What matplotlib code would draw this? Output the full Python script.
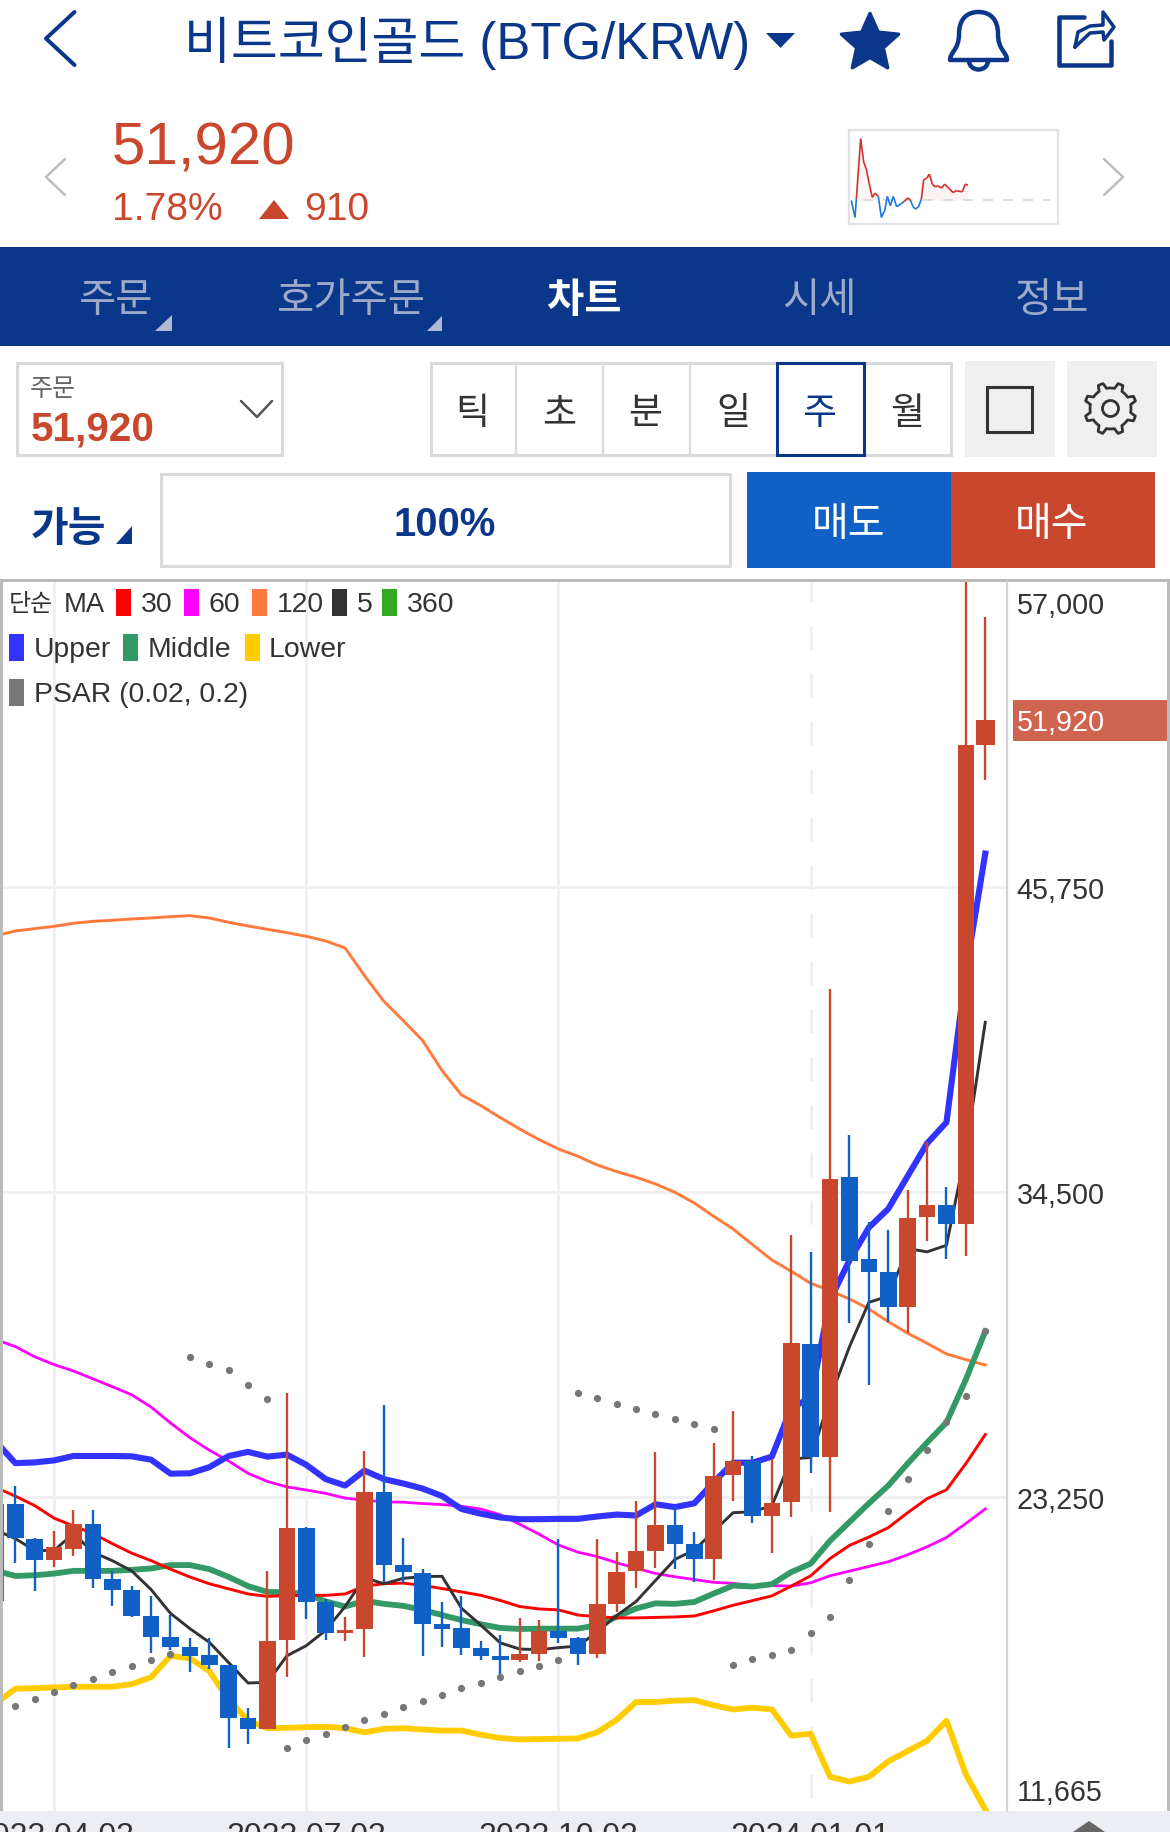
import numpy as np
import matplotlib
matplotlib.use('Agg')
import matplotlib.pyplot as plt
from matplotlib.collections import LineCollection
from matplotlib.patches import Rectangle, Polygon, PathPatch, Arc, Circle
from matplotlib.path import Path

plt.rcParams['font.family'] = ['Liberation Sans', 'Noto Sans CJK KR']

# weekly candles, first one is cut off by the left edge
weeks = list(range(-1, 51))
opens = [19395, 22993, 21714, 20937, 21338, 22253, 20210, 19821, 18856, 18091, 17715, 17402, 17038,
         15095, 14706, 17966, 22116, 19357, 18242, 18367, 23432, 20724, 20461, 18568, 18417, 17665,
         17377, 17251, 17452, 18292, 18029, 17462, 19306, 20513, 21272, 22203, 21497, 20945, 24049,
         24566, 22548, 23048, 28877, 24721, 35068, 32032, 31533, 30239, 33567, 34033, 33326, 50985]
closes = [22993, 21739, 20937, 21414, 22253, 20210, 19821, 18856, 18091, 17715, 17389, 17050, 15095,
          14706, 17941, 22116, 19382, 18229, 18342, 23445, 20749, 20486, 18580, 18367, 17677, 17389,
          17251, 17439, 18292, 18053, 17464, 19289, 20496, 21255, 22203, 21514, 20945, 24014, 24583,
          22548, 23031, 28911, 24721, 34964, 31946, 31550, 30239, 33550, 34033, 33326, 50985, 51920]
highs = [22993, 23658, 21739, 21990, 22780, 22755, 20523, 19959, 19608, 18894, 18053, 18053, 17050,
         15458, 20523, 27080, 22128, 19495, 18831, 24936, 26641, 21727, 20586, 19382, 19608, 17928,
         18141, 18768, 18706, 21702, 18079, 21703, 21220, 23083, 24894, 22893, 21945, 25256, 26428,
         24773, 24652, 32895, 32291, 42000, 36619, 33395, 33102, 34585, 36344, 34688, 58000, 55727]
lows = [19395, 20811, 19796, 20674, 21088, 19896, 19245, 18806, 17477, 17602, 16800, 16913, 14004,
        14130, 14681, 16612, 18730, 17979, 17928, 17339, 20122, 20072, 17389, 17728, 17414, 17226,
        16637, 17176, 17201, 17865, 17063, 17306, 19013, 19876, 20617, 20600, 20117, 20203, 23100,
        22290, 21169, 22514, 24135, 22686, 29653, 27377, 29687, 29308, 32705, 32032, 32136, 49700]

ma5 = [22028, 21714, 21276, 21276, 21902, 21213, 20900, 20523, 19834, 18956, 18392, 17890, 17138,
       16386, 16411, 17389, 17765, 18329, 19207, 20273, 20047, 20248, 20310, 20323, 19144, 18518,
       17866, 17640, 17615, 17690, 17750, 18272, 18876, 19393, 20169, 20945, 21290, 21980, 22669,
       22703, 22928, 24652, 24704, 26894, 28791, 30429, 30653, 32412, 32291, 32533, 36034, 40759]
ma30 = [23595, 23282, 22930, 22467, 22178, 21903, 21527, 21175, 20900, 20586, 20298, 20047, 19859,
        19671, 19583, 19608, 19621, 19621, 19671, 19960, 20047, 20072, 19984, 19871, 19746, 19621,
        19433, 19207, 19119, 19082, 18894, 18831, 18789, 18789, 18806, 18823, 18858, 19048, 19255,
        19427, 19600, 19962, 20341, 20979, 21462, 21772, 22117, 22669, 23186, 23514, 24480, 25549]
ma60 = [29050, 28798, 28422, 28133, 27895, 27607, 27318, 27018, 26566, 25977, 25438, 24974, 24573,
        24121, 23821, 23620, 23507, 23382, 23206, 23131, 23068, 23056, 23006, 22968, 22905, 22805,
        22592, 22241, 21877, 21476, 21213, 21050, 20824, 20617, 20427, 20307, 20203, 20100, 20065,
        19979, 19979, 19962, 20083, 20341, 20514, 20686, 20859, 21117, 21410, 21755, 22272, 22807]
ma120 = [43955, 44127, 44213, 44299, 44410, 44484, 44520, 44570, 44606, 44656, 44693, 44606, 44447,
         44311, 44188, 44066, 43930, 43758, 43500, 42480, 41533, 40820, 40082, 38975, 38078, 37684,
         37242, 36824, 36430, 36086, 35816, 35496, 35250, 35041, 34795, 34487, 34094, 33602, 33135,
         32557, 31991, 31573, 31131, 30860, 30553, 30184, 29717, 29287, 28918, 28524, 28315, 28119]
bb_upper = [25288, 24498, 24523, 24598, 24761, 24761, 24761, 24748, 24623, 24109, 24121, 24347, 24761,
            24911, 24736, 24811, 24435, 23908, 23670, 24222, 23908, 23745, 23557, 23282, 22805, 22630,
            22492, 22429, 22429, 22442, 22442, 22529, 22600, 22565, 22979, 22876, 23014, 23790, 24514,
            24514, 24738, 26549, 26894, 30515, 31981, 33188, 33878, 35085, 36292, 37068, 42620, 46983]
bb_middle = [20523, 20335, 20360, 20423, 20523, 20523, 20523, 20561, 20611, 20736, 20736, 20586, 20298,
             19959, 19746, 19734, 19671, 19395, 19207, 19420, 19307, 19232, 19082, 18894, 18706, 18555,
             18417, 18380, 18392, 18392, 18392, 18518, 18824, 19134, 19324, 19306, 19375, 19686, 19979,
             19945, 20031, 20479, 20790, 21634, 22324, 23014, 23669, 24480, 25256, 25997, 27584, 29360]
bb_lower = [15634, 16173, 16198, 16223, 16248, 16248, 16248, 16348, 16599, 17389, 17301, 16825, 15759,
            15007, 14719, 14732, 14757, 14769, 14719, 14568, 14694, 14719, 14669, 14631, 14631, 14481,
            14355, 14305, 14318, 14330, 14343, 14568, 15030, 15685, 15685, 15737, 15754, 15565, 15410,
            15478, 15410, 14444, 14513, 12926, 12754, 12926, 13495, 13875, 14254, 14995, 13012, 11720]
psar = [15300, 15546, 15797, 16060, 16298, 16549, 16788, 17013, 17239, 17464, 28397, 28171, 27945,
        27381, 26855, 14004, 14267, 14518, 14769, 15020, 15258, 15509, 15722, 15960, 16185, 16399,
        16612, 16825, 17026, 17239, 27093, 26892, 26687, 26497, 26308, 26135, 25945, 25773, 17065,
        17272, 17427, 17617, 18238, 18823, 20203, 21514, 22738, 23894, 24980, 25997, 26963, 29360]

grid_prices = [23250, 34500, 45750]
grid_labels = ['23,250', '34,500', '45,750']
date_weeks = [2, 15, 28, 41]
date_labels = ['2023.04.03', '2023.07.03', '2023.10.02', '2024.01.01']

# small intraday thumbnail
spark_t = [65, 76, 80, 93, 102, 110, 120, 128, 136, 146, 155, 165, 173, 182, 191, 201, 213, 224, 235,
           243, 250, 258, 267, 275, 282, 292, 299, 308, 316, 325, 335, 345, 355, 370, 380, 398, 407, 415]
spark_v = [0, -51, 4, 186, 116, 94, 44, 9, 22, 12, -51, -31, 12, -16, 12, -19, -11, -3, 8,
           -1, -19, -26, -18, 4, 62, 68, 79, 49, 41, 44, 37, 49, 39, 24, 29, 26, 49, 46]

NAVY = '#0a3789'
RED = '#c8472d'
BLUE = '#1160c6'
GRAY_BORDER = '#dadada'


fig = plt.figure(figsize=(11.7, 18.33), dpi=100)

# screen chrome is laid out in pixels
ui = fig.add_axes([0, 0, 1, 1], zorder=0)
ui.set_xlim(0, 1170)
ui.set_ylim(1833, 0)
ui.axis('off')


def txt(x, y, s, px, color='#333333', ha='center', va='baseline', weight='normal'):
    ui.text(x, y, s, fontsize=px * 0.72, color=color, ha=ha, va=va, fontweight=weight)


def box(x0, y0, x1, y1, fc='white', ec='none', lw=0, z=1):
    ui.add_patch(Rectangle((x0, y0), x1 - x0, y1 - y0, facecolor=fc, edgecolor=ec, linewidth=lw, zorder=z))


def poly(pts, color, z=2):
    ui.add_patch(Polygon(pts, closed=True, facecolor=color, edgecolor='none', zorder=z))


def stroke(pts, color, px=3, z=2):
    xs, ys = zip(*pts)
    ui.plot(xs, ys, color=color, lw=px * 0.72, zorder=z, solid_capstyle='round', solid_joinstyle='round')


# header
stroke([(74.5, 13), (46, 39.5), (74.5, 66)], NAVY, 4)
txt(467, 59, '비트코인골드 (BTG/KRW)', 51, NAVY)
poly([(766, 34), (795, 34), (780.5, 49)], NAVY)

ang = np.linspace(-np.pi / 2, 1.5 * np.pi, 11)[:-1]
rad = np.where(np.arange(10) % 2 == 0, 30, 14)
star = np.c_[870 + rad * np.cos(ang), 44.5 + rad * np.sin(ang)]
ui.add_patch(Polygon(star, closed=True, facecolor=NAVY, edgecolor=NAVY, lw=2.5, joinstyle='round'))

bell = Path([(950, 61), (1007, 61), (1007, 53), (998, 51), (998, 35), (998, 20), (990, 13), (978.5, 13),
             (967, 13), (959, 20), (959, 35), (959, 51), (950, 53), (950, 61), (950, 61)],
            [Path.MOVETO, Path.LINETO] + [Path.CURVE4] * 12 + [Path.CLOSEPOLY])
ui.add_patch(PathPatch(bell, facecolor='none', edgecolor=NAVY, lw=3.2, joinstyle='round'))
ui.add_patch(Arc((978.5, 62), 19, 17, theta1=0, theta2=180, edgecolor=NAVY, lw=3.2))

stroke([(1084, 18), (1059, 18), (1059, 66), (1111, 66), (1111, 42)], NAVY, 4.5)
stroke([(1075, 48), (1078, 33), (1090, 27), (1103, 26), (1103, 13), (1114, 28), (1104, 41), (1103, 33),
        (1090, 34), (1075, 48)], NAVY, 3.5)

# quote row
txt(112, 164.5, '51,920', 60, RED, ha='left')
txt(112, 220, '1.78%', 39, RED, ha='left')
poly([(259, 220), (274, 201), (289, 220)], RED)
txt(304, 220, '910', 39, RED, ha='left')
stroke([(65, 160), (46, 178), (65, 196)], '#bdbdbd', 2.5)
stroke([(1104, 160), (1123, 178), (1104, 196)], '#bdbdbd', 2.5)

# nav band
box(0, 248, 1170, 347, fc=NAVY)
for cx, name in zip([116, 351, 819, 1052], ['주문', '호가주문', '시세', '정보']):
    txt(cx, 312, name, 40.5, '#9dabc9')
txt(584, 312, '차트', 40.5, 'white', weight='bold')
poly([(171.5, 316), (171.5, 332), (155, 332)], '#aeb9d2')
poly([(442, 317), (442, 332), (427, 332)], '#aeb9d2')

# order price box
box(16.5, 364, 282, 456, ec=GRAY_BORDER, lw=2.2)
txt(53, 396, '주문', 25, '#666666')
txt(31, 440, '51,920', 40.5, RED, ha='left', weight='bold')
stroke([(241, 402), (257, 418), (272, 402)], '#555555', 2.5)

# period buttons
box(430.5, 364, 951, 456, ec=GRAY_BORDER, lw=2.2)
for dx in [516, 603, 690]:
    ui.plot([dx, dx], [364, 456], color=GRAY_BORDER, lw=1.6, zorder=2)
for cx, name in zip([472, 559, 645.5, 733.5, 907], ['틱', '초', '분', '일', '월']):
    txt(cx, 424, name, 37, '#333333')
box(777, 364, 864, 456, ec=NAVY, lw=2.2, z=3)
txt(819, 424, '주', 37, NAVY)

box(965, 362, 1054.5, 458, fc='#efefef')
box(1067, 362, 1157, 458, fc='#efefef')
box(987, 388, 1032, 433, fc='#efefef', ec='#333333', lw=2.2, z=2)

gear_ang = np.linspace(0, 2 * np.pi, 65)
gear_r = np.where((np.arange(65) % 8 >= 1) & (np.arange(65) % 8 <= 3), 26, 20.5)
gear = np.c_[1110.5 + gear_r * np.cos(gear_ang + 0.2), 409.5 + gear_r * np.sin(gear_ang + 0.2)]
ui.add_patch(Polygon(gear, closed=True, facecolor='none', edgecolor='#333333', lw=2, joinstyle='round', zorder=2))
ui.add_patch(Circle((1110.5, 409.5), 8, facecolor='none', edgecolor='#333333', lw=2, zorder=2))

# amount row
txt(68, 541, '가능', 41, NAVY, weight='bold')
poly([(132, 527), (132, 545), (116, 545)], NAVY)
box(160.5, 475, 730, 567, ec=GRAY_BORDER, lw=2.2)
txt(445, 536, '100%', 40, NAVY, weight='bold')
box(747, 473, 951, 569, fc=BLUE)
box(951, 473, 1155, 569, fc=RED)
txt(848.5, 536, '매도', 40, 'white')
txt(1052, 536, '매수', 40, 'white')

# chart frame and bottom band
box(0, 580, 1170, 583, fc='#bbbbbb')
box(0, 580, 3, 1812, fc='#bbbbbb')
box(1167, 580, 1170, 1812, fc='#bbbbbb')
box(0, 1812, 1170, 1833, fc='#eceef3')
poly([(1073, 1833), (1089, 1822), (1105, 1833)], '#666666', z=2)
box(1013, 701, 1167, 741.5, fc='#cf6450')

# thumbnail chart
spark = fig.add_axes([849 / 1170, 1 - 225 / 1833, 209 / 1170, 94 / 1833], zorder=1)
spark.set_xlim(58, 685)
spark.set_ylim(-71, 212)
spark.set_xticks([])
spark.set_yticks([])
for s in spark.spines.values():
    s.set_color('#e2e2e2')
    s.set_linewidth(1.6)
spark.plot([100, 660], [0, 0], color='#d8d8d8', lw=1.2, dashes=(6, 6))
spark_pts = np.c_[spark_t, spark_v]
spark_segs = np.stack([spark_pts[:-1], spark_pts[1:]], axis=1)
spark_cols = ['#d22f2f' if a + b > 0 else '#1b78dc' for a, b in zip(spark_v[:-1], spark_v[1:])]
spark.add_collection(LineCollection(spark_segs, colors=spark_cols, linewidths=1.2))
spark.fill_between(spark_t, 0, np.maximum(spark_v, 0), color='#d22f2f', alpha=0.05, lw=0)

# candle chart
ax = fig.add_axes([3 / 1170, 21 / 1833, 1004 / 1170, 1229 / 1833], zorder=2)
ax.set_xlim(-0.634, 51.12)
ax.set_ylim(11665, 57000)
for side in ['left', 'top', 'bottom']:
    ax.spines[side].set_visible(False)
ax.spines['right'].set_color('#d4d4d4')
ax.spines['right'].set_linewidth(1.6)

ax.set_xticks(date_weeks, date_labels)
ax.yaxis.tick_right()
ax.set_yticks(grid_prices, grid_labels)
ax.tick_params(axis='both', length=0, labelsize=20.7, labelcolor='#333333')
ax.tick_params(axis='y', pad=7)
ax.tick_params(axis='x', labelsize=23, pad=7)
ax.grid(True, color='#f0f0f0', lw=2.1, zorder=0)
ax.get_xgridlines()[3].set_linestyle((12, (8.2, 8.2)))
ax.set_axisbelow(True)

ax.plot(weeks, ma120, color='#ff7a3c', lw=2.1, zorder=2)
ax.plot(weeks, ma60, color='#ff00ff', lw=2.0, zorder=2)
ax.plot(weeks, bb_lower, color='#ffcc00', lw=4.2, zorder=2)
ax.plot(weeks, bb_middle, color='#339966', lw=4.2, zorder=2)
ax.plot(weeks, bb_upper, color='#3333ff', lw=4.4, zorder=2)
ax.plot(weeks, ma30, color='#ff0000', lw=2.1, zorder=2.1)
ax.plot(weeks, ma5, color='#333333', lw=2.1, zorder=2.1)

candle_colors = [RED if c >= o else BLUE for o, c in zip(opens, closes)]
body_w = [0.85] * len(weeks)
body_w[-1] = 1.0
ax.vlines(weeks, lows, highs, colors=candle_colors, lw=1.7, zorder=3)
ax.bar(weeks, np.array(closes) - np.array(opens), bottom=opens, width=body_w, color=candle_colors, zorder=3)
ax.scatter(weeks, psar, s=27, color='#777777', linewidths=0, zorder=4)

for price, label, off in [(57000, '57,000', -23.5), (11665, '11,665', 19)]:
    ax.annotate(label, xy=(1, price), xycoords=('axes fraction', 'data'), xytext=(10, off),
                textcoords='offset pixels', fontsize=20.7, color='#333333', va='center',
                annotation_clip=False)
ax.annotate('51,920', xy=(1, 51920), xycoords=('axes fraction', 'data'), xytext=(10, -2),
            textcoords='offset pixels', fontsize=20.7, color='white', va='center', annotation_clip=False)

# legend, drawn above the axes
leg = fig.add_axes([0, 0, 1, 1], zorder=3)
leg.set_xlim(0, 1170)
leg.set_ylim(1833, 0)
leg.axis('off')
legend_rows = [
    (604.5, 590, [(116, '#ff0000', 141, '30'), (183.5, '#ff00ff', 208, '60'), (252, '#ff7a3c', 277, '120'),
                  (332, '#333333', 357, '5'), (382, '#33aa22', 407, '360')]),
    (649.5, 635, [(9, '#3333ff', 34, 'Upper'), (123, '#339966', 148, 'Middle'), (245, '#ffcc00', 269, 'Lower')]),
    (694.5, 680, [(9, '#777777', 34, 'PSAR (0.02, 0.2)')]),
]
leg.text(9, 604.5, '단순', fontsize=17.3, color='#333333', va='center')
leg.text(64, 604.5, 'MA', fontsize=19.7, color='#333333', va='center')
for cy, top, items in legend_rows:
    for sx, col, tx, name in items:
        leg.add_patch(Rectangle((sx, top), 15, 27, facecolor=col, edgecolor='none'))
        leg.text(tx, cy, name, fontsize=20.4, color='#333333', va='center')

fig.savefig('out.png', dpi=100)
